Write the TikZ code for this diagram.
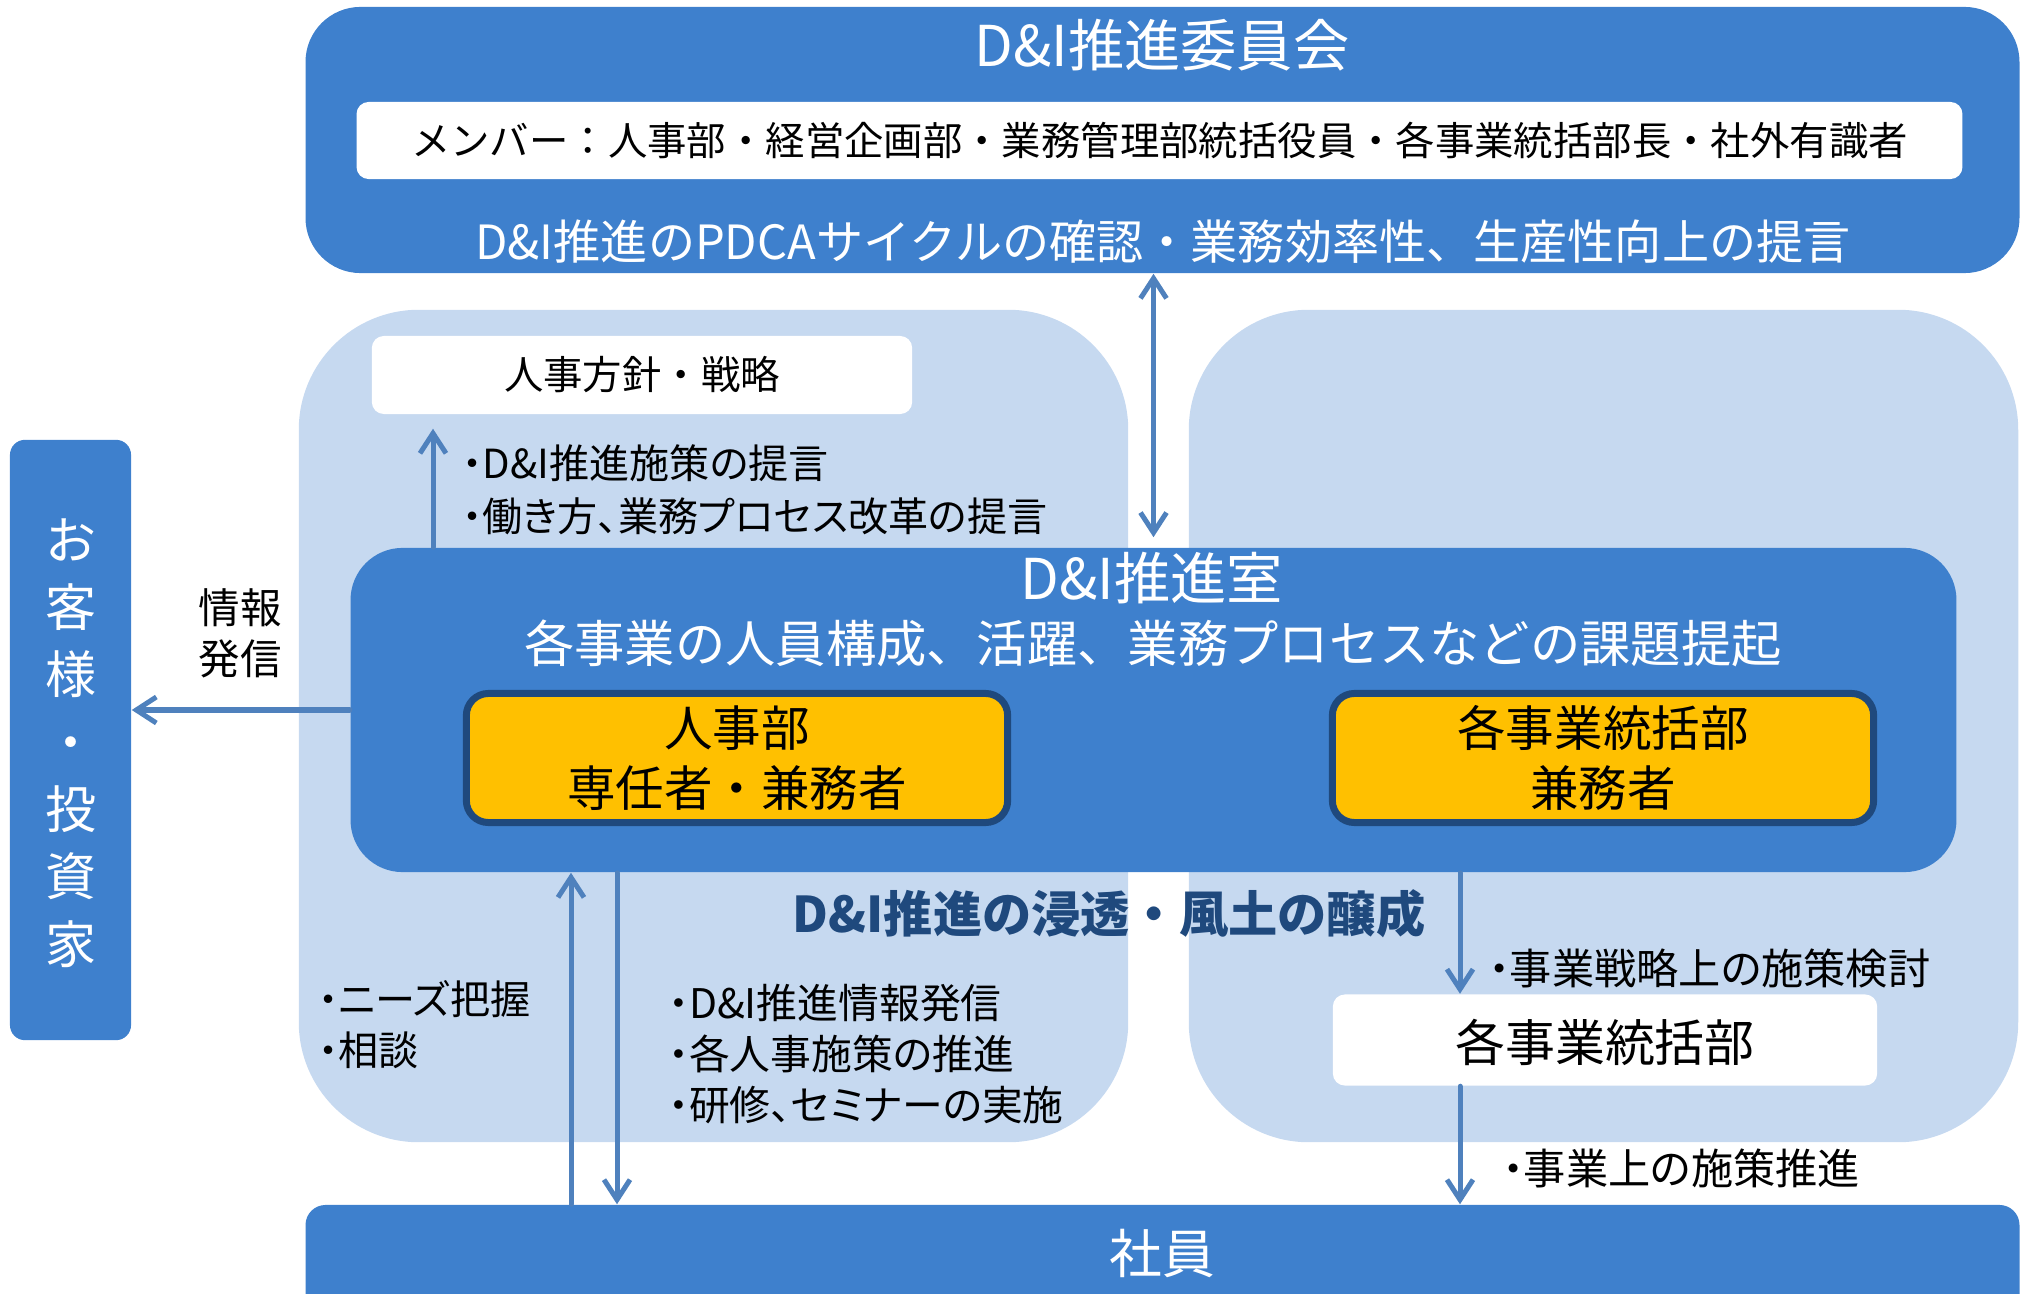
\documentclass[tikz,border=0pt]{standalone}
\usepackage{fontspec}
\setmainfont{Noto Sans CJK JP}
\newfontfamily\jpprop[RawFeature=+palt]{Noto Sans CJK JP}
\usetikzlibrary{arrows.meta}

\definecolor{dnblue}{RGB}{62,128,205}
\definecolor{dnpale}{RGB}{198,217,240}
\definecolor{dnarrow}{RGB}{79,129,189}
\definecolor{dnnavy}{RGB}{31,73,125}
\definecolor{dnyellow}{RGB}{255,192,0}

\newcommand\jfs[2]{\fontsize{#1}{#2}\selectfont}

\begin{document}
\begin{tikzpicture}[x=0.01cm,y=-0.01cm,
    bluebox/.style={fill=dnblue,inner sep=0pt,rounded corners=0.52cm},
    palebox/.style={fill=dnpale,inner sep=0pt,rounded corners=1.2cm,minimum width=8.29cm,minimum height=8.32cm},
    whitebox/.style={fill=white,inner sep=0pt,rounded corners=0.12cm},
    staffbox/.style={draw=dnnavy,line width=0.07cm,fill=dnyellow,rounded corners=0.22cm,
        minimum width=5.41cm,minimum height=1.29cm,align=center,font=\jfs{13.8}{17}},
    wtext/.style={text=white,inner sep=0pt},
    btext/.style={text=black,inner sep=0pt},
    bullets/.style={btext,anchor=west,align=left},
    tip/.style={-{Straight Barb[length=0.2cm,width=0.26cm]}},
    arrowline/.style={tip,draw=dnarrow,line width=0.05cm,line cap=round}]

    \useasboundingbox (0,0) rectangle (2029,1294);

    % Light panels behind the office
    \node[palebox] (hrpanel) at (713.5,726) {};
    \node[palebox] (bizpanel) at (1603.5,726) {};

    % Committee
    \node[bluebox,rounded corners=0.55cm,minimum width=17.13cm,minimum height=2.66cm] (committee) at (1162.5,140) {};
    \node[wtext,font=\jfs{16}{19}] (committeetitle) at (1162,45) {D\&I推進委員会};
    \node[whitebox,minimum width=16.05cm,minimum height=0.77cm] (members) at (1159.5,140.5) {};
    \node[btext,font=\jfs{11.2}{14}] (memberstext) at (members) {メンバー：人事部・経営企画部・業務管理部統括役員・各事業統括部長・社外有識者};
    \node[wtext,font=\jfs{13.4}{16}] (committeetask) at (1163,242) {D\&I推進のPDCAサイクルの確認・業務効率性、生産性向上の提言};

    % Customers / investors
    \node[bluebox,rounded corners=0.15cm,minimum width=1.21cm,minimum height=6.00cm] (cust) at (70.5,740) {};
    \node[wtext,align=center,font=\jfs{14.5}{19.15}] (custtext) at (71,743) {お\\客\\様\\・\\投\\資\\家};
    \node[btext,align=center,font=\jfs{11.8}{14.5}] (infolabel) at (240,633) {情報\\発信};

    % HR policy
    \node[whitebox,minimum width=5.40cm,minimum height=0.78cm] (hrpolicy) at (642,375) {};
    \node[btext,font=\jfs{11.2}{14}] (hrpolicytext) at (hrpolicy) {人事方針・戦略};
    \node[bullets,font=\jpprop\jfs{11.4}{15}] (proposals) at (462,490) {・D\&I推進施策の提言\\・働き方、業務プロセス改革の提言};

    % D&I office
    \node[bluebox,minimum width=16.05cm,minimum height=3.24cm] (room) at (1153.5,710) {};
    \node[wtext,font=\jfs{16}{19}] (roomtitle) at (1152,578) {D\&I推進室};
    \node[wtext,font=\jfs{14.3}{17}] (roomtask) at (1153,643) {各事業の人員構成、活躍、業務プロセスなどの課題提起};
    \node[staffbox] (hrstaff) at (737,758) {人事部\\専任者・兼務者};
    \node[staffbox] (bizstaff) at (1603,758) {各事業統括部\\兼務者};

    \node[text=dnnavy,inner sep=0pt,font=\jfs{14}{17}\bfseries] (culture) at (1109,914) {D\&I推進の浸透・風土の醸成};

    % Business divisions
    \node[whitebox,minimum width=5.44cm,minimum height=0.91cm] (bizdiv) at (1605,1040) {};
    \node[btext,font=\jfs{14.2}{17}] (bizdivtext) at (1605,1042) {各事業統括部};
    \node[bullets,font=\jpprop\jfs{12}{14}] (bizplan) at (1488,968) {・事業戦略上の施策検討};
    \node[bullets,font=\jpprop\jfs{12}{14}] (bizdo) at (1502,1168) {・事業上の施策推進};

    % Employees
    \node[bluebox,rounded corners=0.2cm,minimum width=17.13cm,minimum height=1.15cm] (staff) at (1162.5,1262.5) {};
    \node[wtext,font=\jfs{15}{18}] (stafftext) at (1162,1254) {社員};
    \node[bullets,font=\jpprop\jfs{11.4}{14.5}] (needs) at (318,1025) {・ニーズ把握\\・相談};
    \node[bullets,font=\jpprop\jfs{11.6}{14.5}] (measures) at (668,1054) {・D\&I推進情報発信\\・各人事施策の推進\\・研修、セミナーの実施};

    % Arrow columns
    \coordinate (hrcol) at (433,0);
    \coordinate (upcol) at (571,0);
    \coordinate (downcol) at (617,0);
    \coordinate (bizcol) at (1460,0);

    % Arrows
    \draw[arrowline] (room.west) -- (room.west -| cust.east);
    \draw[arrowline,{Straight Barb[length=0.2cm,width=0.26cm]}-{Straight Barb[length=0.2cm,width=0.26cm]}]
        (room.north |- committee.south) -- ([yshift=0.1cm]room.north);
    \draw[arrowline] (room.north -| hrcol) -- ([yshift=-0.14cm]hrpolicy.south -| hrcol);
    \draw[arrowline] (staff.north -| upcol) -- (room.south -| upcol);
    \draw[arrowline] (room.south -| downcol) -- (staff.north -| downcol);
    \draw[arrowline] (room.south -| bizcol) -- (bizdiv.north -| bizcol);
    \draw[arrowline] (bizdiv.south -| bizcol) -- (staff.north -| bizcol);

\end{tikzpicture}
\end{document}
